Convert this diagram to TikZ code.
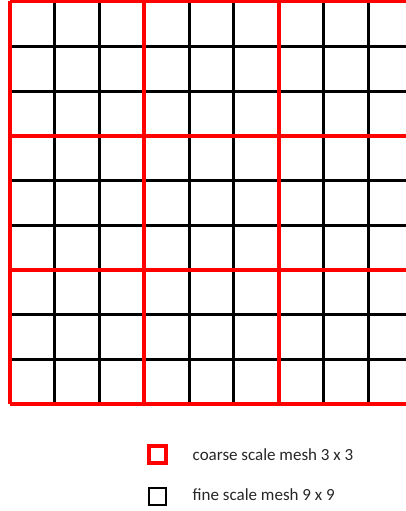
\documentclass[tikz,border=0pt]{standalone}
\usepackage{fontspec}
\setmainfont{Carlito}
\begin{document}
\begin{tikzpicture}[x=1pt, y=-1pt,
    fine/.style={draw=black, line width=3pt},
    coarse/.style={draw=red, line width=4pt},
    key/.style={rectangle, minimum size=17pt, inner sep=0pt},
    label/.style={anchor=west, inner sep=0pt, text=black!85, font=\fontsize{17}{20}\selectfont}
]
    \useasboundingbox (0,0) rectangle (406,511);
    \clip (0,0) rectangle (406,511);
    % fine mesh 9 x 9
    \foreach \i in {0,...,9} {
        \draw[fine] (10+\i*44.75,1.5) -- (10+\i*44.75,404.25);
        \draw[fine] (10,1.5+\i*44.75) -- (412.75,1.5+\i*44.75);
    }
    % coarse mesh 3 x 3
    \foreach \i in {0,3,6,9} {
        \draw[coarse] (10+\i*44.75,1.5) -- (10+\i*44.75,404.25);
        \draw[coarse] (10,1.5+\i*44.75) -- (412.75,1.5+\i*44.75);
    }
    % legend
    \node[key, draw=red, line width=3.5pt] (coarsekey) at (157.5,454.5) {};
    \node[key, draw=black, line width=2.3pt] (finekey) at (157.5,496.5) {};
    \node[label] (coarselabel) at (192.5,455) {coarse scale mesh 3 x 3};
    \node[label] (finelabel) at (192.5,495) {fine scale mesh 9 x 9};
\end{tikzpicture}
\end{document}
